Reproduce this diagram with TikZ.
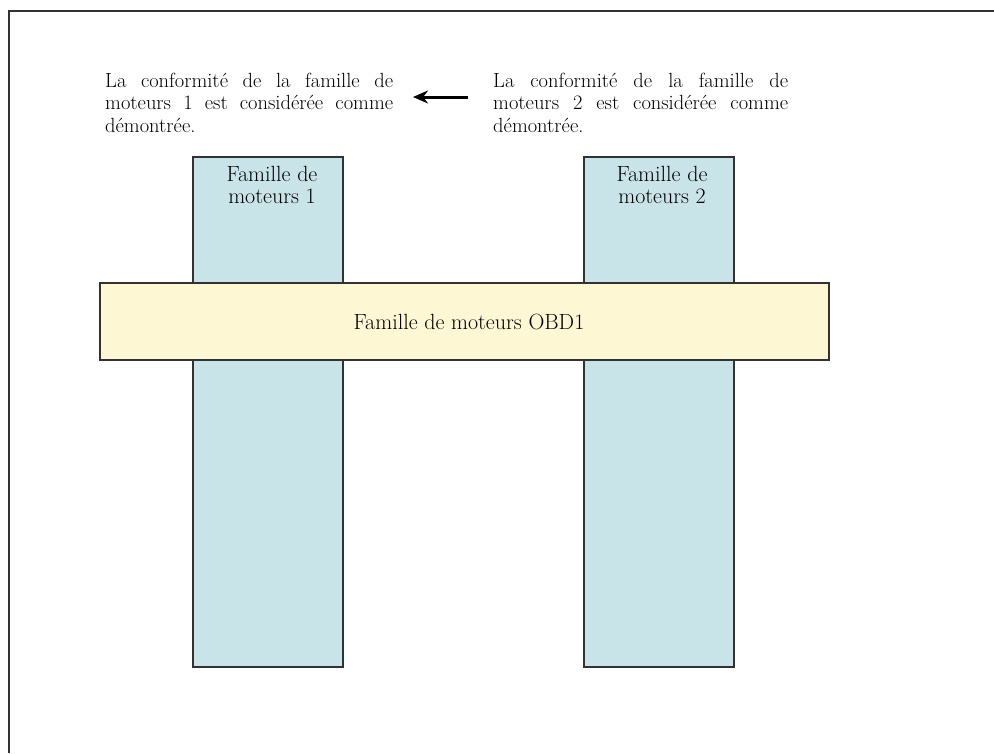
\documentclass[tikz,border=0pt]{standalone}
\usepackage{fontspec}
\usetikzlibrary{arrows.meta}
\definecolor{boxblue}{RGB}{201,228,232}
\definecolor{boxyellow}{RGB}{254,247,212}
\definecolor{edge}{RGB}{50,50,50}
\tikzset{
  pillar/.style={draw=edge, line width=1.4pt, fill=boxblue, minimum width=150pt, minimum height=510pt, inner sep=0pt},
  band/.style={draw=edge, line width=1.4pt, fill=boxyellow, minimum width=729pt, minimum height=77pt, inner sep=0pt},
  txt/.style={inner sep=0pt, font=\fontsize{22}{22}\selectfont},
  boxtxt/.style={inner sep=0pt, font=\fontsize{22}{22}\selectfont},
  frameline/.style={draw=edge, line width=2pt},
  bigarrow/.style={line width=3pt, -{Stealth[length=15pt,width=13pt]}}
}
\newcommand{\maintextfont}{\fontsize{20.5}{22.5}\selectfont}
\begin{document}
\begin{tikzpicture}[x=1pt,y=-1pt]
\useasboundingbox (0,0) rectangle (994,753);
% outer frame
\coordinate (f1) at (9,753);
\coordinate (f2) at (9,11);
\coordinate (f3) at (994,11);
\draw[frameline] (f1) -- (f2) -- (f3);
% pillars
\node[pillar] (p1) at (268,412) {};
\node[pillar] (p2) at (659,412) {};
\node[boxtxt, align=center, anchor=base] (p1t) at (272,203) {Famille de\\moteurs 1};
\node[boxtxt, align=center, anchor=base] (p2t) at (662,203) {Famille de\\moteurs 2};
% band
\node[band] (b) at (464.5,321.5) {};
\node[txt, anchor=base] (bt) at (469,329) {Famille de moteurs OBD1};
% texts
\node[txt, anchor=base west] (t1) at (105,87) {\parbox[t]{288pt}{\maintextfont
  \makebox[288pt][s]{La conformité de la famille de}\\
  \makebox[288pt][s]{moteurs 1 est considérée comme}\\
  démontrée.}};
\node[txt, anchor=base west] (t2) at (493,87) {\parbox[t]{295pt}{\maintextfont
  \makebox[295pt][s]{La conformité de la famille de}\\
  \makebox[295pt][s]{moteurs 2 est considérée comme}\\
  démontrée.}};
% arrow
\coordinate (a1) at (468,97);
\coordinate (a2) at (413,97);
\draw[bigarrow] (a1) -- (a2);
\end{tikzpicture}
\end{document}
